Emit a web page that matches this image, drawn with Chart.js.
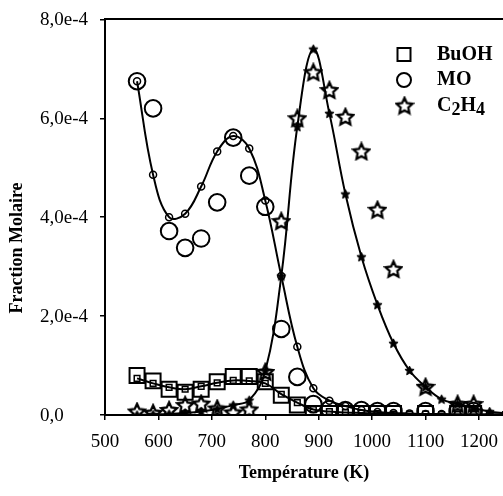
<!DOCTYPE html>
<html><head><meta charset="utf-8">
<script src="https://cdn.jsdelivr.net/npm/chart.js@4/dist/chart.umd.min.js"></script>
<style>html,body{margin:0;padding:0;background:#fff}#wrap{width:503px;height:496px}</style>
</head><body><div id="wrap"><canvas id="c" width="503" height="496"></canvas></div>
<script>
// ---- data (mole fraction values in units of 1e-4) ----
const tModel = [560,590,620,650,680,710,740,770,800,830,860,890,920,950,980,1010,1040,1070,1100,1130,1160,1190,1220,1250];
const buohModel = [0.74,0.64,0.56,0.52,0.58,0.65,0.70,0.69,0.64,0.42,0.25,0.11,0.07,0.05,0.04,0.03,0.02,0.02,0.02,0.01,0.01,0.01,0.01,0.01];
const moModel   = [6.75,4.86,4.00,4.07,4.62,5.33,5.64,5.39,4.34,2.81,1.38,0.54,0.29,0.18,0.10,0.06,0.04,0.03,0.02,0.02,0.01,0.01,0.01,0.01];
const c2h4Model = [0.00,0.01,0.02,0.04,0.07,0.12,0.20,0.30,0.89,2.81,5.83,7.40,6.10,4.47,3.20,2.23,1.45,0.90,0.57,0.32,0.22,0.14,0.07,0.03];

const tExp = [560,590,620,650,680,710,740,770,800,830,860,890,920,950,980,1010,1040,1100,1160,1190];
const buohExp = [0.80,0.69,0.52,0.46,0.52,0.67,0.78,0.78,0.67,0.40,0.20,0.03,0.03,0.03,0.03,0.03,0.03,0.03,0.03,0.03];
const moExp   = [6.75,6.20,3.72,3.38,3.57,4.30,5.61,4.84,4.21,1.74,0.77,0.22,0.12,0.10,0.10,0.08,0.08,0.08,0.08,0.08];
const c2h4Exp = [0.07,0.04,0.10,0.20,0.23,0.13,0.05,0.11,0.87,3.92,6.00,6.93,6.57,6.03,5.33,4.15,2.95,0.57,0.22,0.22];

const seriesLabels = ['BuOH','MO','C2H4'];
const xTickValues = [500,600,700,800,900,1000,1100,1200];
const yTickValues = [0,2e-4,4e-4,6e-4,8e-4];
const yTickLabels = ['0,0','2,0e-4','4,0e-4','6,0e-4','8,0e-4'];
const UNIT = 1e-4;

function pts(xs, ys){ return xs.map((x,i)=>({x:x, y:ys[i]*UNIT})); }

function starCanvas(d, filled, lw){
  const c = document.createElement('canvas'); c.width = d; c.height = d;
  const g = c.getContext('2d');
  const R = d/2 - lw*0.7, r = R*0.48, cx = d/2, cy = d/2 + R*0.08;
  g.beginPath();
  for (let i=0;i<10;i++){
    const a = -Math.PI/2 + i*Math.PI/5, rr = (i%2)? r : R;
    g.lineTo(cx + rr*Math.cos(a), cy + rr*Math.sin(a));
  }
  g.closePath();
  if (filled){ g.fillStyle='#000'; g.fill(); }
  g.lineWidth = lw; g.strokeStyle='#000'; g.lineJoin='miter'; g.stroke();
  return c;
}
const bigStar = starCanvas(20, false, 2.3);
const smallStar = starCanvas(11, true, 1);

const NONE = 'rgba(0,0,0,0)';
const datasets = [
  {label:seriesLabels[0]+' model', data:pts(tModel,buohModel), showLine:true, tension:0.4, borderColor:'#000', borderWidth:2,
   pointStyle:'rect', pointRadius:4, pointBorderWidth:1.5, pointBorderColor:'#000', pointBackgroundColor:NONE},
  {label:seriesLabels[1]+' model', data:pts(tModel,moModel), showLine:true, tension:0.4, borderColor:'#000', borderWidth:2,
   pointStyle:'circle', pointRadius:3.5, pointBorderWidth:1.5, pointBorderColor:'#000', pointBackgroundColor:NONE},
  {label:seriesLabels[2]+' model', data:pts(tModel,c2h4Model), showLine:true, tension:0.4, borderColor:'#000', borderWidth:2,
   pointStyle:smallStar, pointRadius:5},
  {label:seriesLabels[0], inLegend:true, data:pts(tExp,buohExp), showLine:false,
   pointStyle:'rect', pointRadius:10.6, pointBorderWidth:2, pointBorderColor:'#000', pointBackgroundColor:NONE},
  {label:seriesLabels[1], inLegend:true, data:pts(tExp,moExp), showLine:false,
   pointStyle:'circle', pointRadius:8.3, pointBorderWidth:2, pointBorderColor:'#000', pointBackgroundColor:NONE},
  {label:seriesLabels[2], inLegend:true, data:pts(tExp,c2h4Exp), showLine:false,
   pointStyle:bigStar, pointRadius:10}
];

const serif = '"Liberation Serif", "Times New Roman", serif';
const tickFont = {family:serif, size:19};
const titleFont = {family:serif, size:18, weight:'bold'};

// y tick labels, left-aligned at the outer edge of the y axis box, placed through the y scale
const yLabelPlugin = {
  id:'yLabels',
  afterDraw(chart){
    const {ctx} = chart; const ys = chart.scales.y;
    ctx.save();
    ctx.fillStyle='#000'; ctx.textAlign='left'; ctx.textBaseline='middle';
    ctx.font = tickFont.size + 'px ' + serif;
    yTickValues.forEach((v,i)=>{ ctx.fillText(yTickLabels[i], ys.left, ys.getPixelForValue(v) + 1); });
    ctx.restore();
  }
};

const legendPlugin = {
  id:'customLegend',
  afterDraw(chart){
    const {ctx, chartArea} = chart;
    const items = chart.data.datasets.filter(d=>d.inLegend);
    ctx.save();
    ctx.strokeStyle='#000'; ctx.lineWidth=2;
    items.forEach((ds,i)=>{
      const cx = chartArea.right - 99, cy = chartArea.top + 35 + i*25.6;
      const ps = ds.pointStyle;
      ctx.beginPath();
      if (ps === 'rect'){ ctx.rect(cx-6.5, cy-6.5, 13, 13); ctx.stroke(); }
      else if (ps === 'circle'){ ctx.arc(cx, cy, 7, 0, Math.PI*2); ctx.stroke(); }
      else { ctx.drawImage(ps, cx-ps.width/2+0.5, cy-ps.height/2); }
      let x = chartArea.right - 66;
      ctx.fillStyle='#000'; ctx.textBaseline='middle'; ctx.textAlign='left';
      for (const ch of ds.label){
        const sub = /[0-9]/.test(ch);
        ctx.font = 'bold ' + (sub?18:20) + 'px ' + serif;
        ctx.fillText(ch, x, cy + (sub?5:0));
        x += ctx.measureText(ch).width;
      }
    });
    ctx.restore();
  }
};

new Chart(document.getElementById('c'), {
  type:'scatter',
  data:{datasets},
  plugins:[yLabelPlugin, legendPlugin],
  options:{
    responsive:false, animation:false, devicePixelRatio:1,
    layout:{autoPadding:false, padding:{top:0,right:0,bottom:0,left:0}},
    plugins:{
      legend:{display:false}, tooltip:{enabled:false},
      title:{display:true, position:'left', text:'Fraction Molaire', color:'#000', font:titleFont,
             padding:{top:6.7, bottom:11.7}}
    },
    scales:{
      x:{type:'linear', position:'bottom', min:500, max:1245,
         afterBuildTicks:(s)=>{ s.ticks = xTickValues.map(v=>({value:v})); },
         ticks:{color:'#000', font:tickFont, padding:11, maxRotation:0, callback:(v)=>String(v)},
         grid:{display:true, drawOnChartArea:false, drawTicks:true, tickLength:5, color:'#000', lineWidth:1.5},
         border:{display:true, color:'#000', width:2},
         title:{display:true, text:'Température (K)', color:'#000', font:titleFont, padding:{top:0,bottom:12}},
         afterFit:(s)=>{ s.height = 81; s.paddingRight = 0; }},
      x2:{type:'linear', position:'top', min:500, max:1245,
         ticks:{display:false}, grid:{display:false, drawTicks:false},
         border:{display:true, color:'#000', width:2},
         afterFit:(s)=>{ s.height = 17; }},
      y:{type:'linear', position:'left', min:0, max:8e-4,
         afterBuildTicks:(s)=>{ s.ticks = yTickValues.map(v=>({value:v})); },
         ticks:{color:NONE, font:tickFont, padding:8},
         grid:{display:true, drawOnChartArea:false, drawTicks:true, tickLength:5, color:'#000', lineWidth:1.5},
         border:{display:true, color:'#000', width:2},
         afterFit:(s)=>{ s.width = 65; }}
    }
  }
});
</script></body></html>
